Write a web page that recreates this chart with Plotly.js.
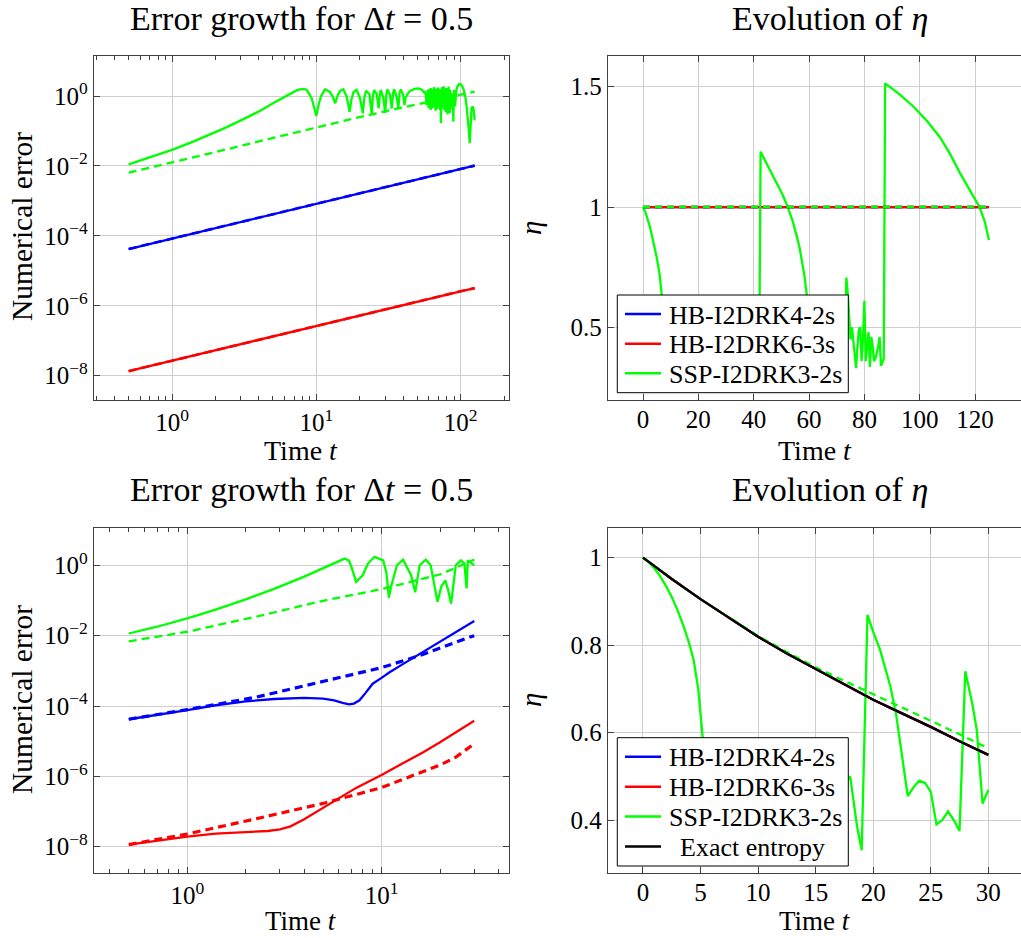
<!DOCTYPE html>
<html>
<head>
<meta charset="utf-8">
<script src="https://cdn.plot.ly/plotly-3.0.1.min.js"></script>
<style>html,body{margin:0;padding:0;background:#fff;}#chart{width:1021px;height:938px;}</style>
</head>
<body>
<div id="chart"></div>
<script>
// ---------------- Data ----------------
// Top-left: error growth, t in [0.5, 125]
const tlLineT      = [0.5, 1, 2, 5, 10, 20, 50, 100, 125];
const tlBlue       = [4.2e-5, 8.4e-5, 1.7e-4, 4.2e-4, 8.5e-4, 1.7e-3, 4.1e-3, 8.2e-3, 1.02e-2];
const tlBlueDash   = [4.2e-5, 8.4e-5, 1.7e-4, 4.2e-4, 8.5e-4, 1.7e-3, 4.1e-3, 8.2e-3, 1.02e-2];
const tlRed        = [1.35e-8, 2.7e-8, 5.3e-8, 1.3e-7, 2.6e-7, 5.2e-7, 1.3e-6, 2.6e-6, 3.2e-6];
const tlRedDash    = [1.35e-8, 2.7e-8, 5.3e-8, 1.3e-7, 2.6e-7, 5.2e-7, 1.3e-6, 2.6e-6, 3.2e-6];
const tlGreenDash  = [6.4e-3, 0.0124, 0.025, 0.063, 0.127, 0.25, 0.58, 1.07, 1.33];
const tlGreenT = [0.5, 0.7, 1, 1.4, 2, 2.27, 3, 4, 5, 6, 6.57, 7.3, 7.9, 8.3, 8.6, 9.3, 9.6, 10, 10.4, 10.8, 11.5, 12.4, 13, 13.5, 14, 14.6, 15.4, 16.2, 16.6, 17, 17.5, 18.1, 19, 20.1, 20.5, 21, 21.5, 22.1, 23.3, 23.8, 24.2, 24.6, 25.1, 26.2, 26.6, 27, 27.5, 27.9, 29.1, 29.6, 30, 30.5, 31, 32.4, 33.3, 34, 34.6, 36, 37, 37.7, 38.5, 40, 40.8, 41.5, 42.5, 43.5, 45, 48, 51, 54, 56,
  57, 57.5, 58, 58.5, 59, 59.5, 60, 60.5, 61, 61.5, 62, 62.5, 63, 63.5, 64, 64.5, 65, 65.5, 66, 66.5, 67, 67.5, 68, 68.5, 69, 69.5, 70, 70.5, 71, 71.5, 72, 72.5, 73, 73.5, 74, 74.5, 75, 75.5, 76, 76.5, 77, 77.5, 78, 78.5, 79, 79.5, 80, 80.5, 81, 81.5, 82, 82.5, 83, 83.5, 84, 84.5, 85, 85.5, 86, 86.5, 87, 87.5, 88, 88.5, 89, 89.5, 90,
  91.5, 93, 95, 97.5, 100, 102, 105, 108, 110, 112, 114, 115.5, 117, 119, 121, 122.5, 124, 125];
const tlGreen = [0.0111, 0.0172, 0.0288, 0.0494, 0.0923, 0.117, 0.201, 0.363, 0.62, 0.95, 1.17, 1.45, 1.58, 1.58, 1.48, 0.85, 0.5, 0.27, 0.6, 1.0, 1.55, 1.32, 0.95, 0.62, 1.0, 1.4, 1.55, 0.95, 0.6, 0.35, 0.8, 1.3, 1.5, 0.85, 0.55, 0.32, 0.9, 1.42, 1.14, 0.6, 0.3, 0.9, 1.48, 1.14, 0.7, 0.45, 1.0, 1.5, 0.9, 0.5, 0.33, 1.0, 1.55, 1.07, 0.44, 1.2, 1.55, 0.95, 0.44, 1.2, 1.55, 1.07, 0.55, 0.9, 1.1, 1.25, 1.42, 1.6, 1.66, 1.5, 1.25,
  1.3, 0.9, 0.55, 1.2, 0.6, 1.5, 0.45, 1.6, 0.7, 1.4, 0.4, 1.7, 0.8, 1.3, 0.45, 1.55, 0.6, 1.8, 0.5, 1.2, 0.38, 1.6, 0.7, 1.45, 0.42, 1.75, 0.55, 1.3, 0.5, 1.6, 0.4, 1.2, 0.17, 1.5, 0.6, 1.8, 0.45, 1.4, 0.7, 1.9, 0.4, 1.5, 0.6, 1.3, 0.35, 1.7, 0.8, 1.5, 0.3, 1.6, 0.5, 1.85, 0.6, 1.3, 0.32, 1.5, 0.7, 1.4, 0.45, 1.2, 0.5, 1.0, 0.4, 0.6, 0.185, 0.9, 1.5,
  0.5, 1.3, 1.9, 2.2, 2.2, 2.0, 1.5, 0.9, 0.5, 0.25, 0.1, 0.045, 0.2, 0.45, 0.5, 0.45, 0.3, 0.2];

// Top-right: evolution of eta, t in [0, 125]
const trLineT  = [0, 25, 50, 75, 100, 125];
const trBlue   = [1, 1, 1, 1, 1, 1];
const trRed    = [1, 1, 1, 1, 1, 1];
const trGreenDash = [1, 1, 1, 1, 1, 1];
const trGreenT = [0, 1, 2.5, 3.5, 4.9, 6, 6.8, 7.5, 8, 8.5, 9, 15, 20, 25, 30, 35, 40, 42,
  42.5, 44.7, 46.5, 48.3, 50.5, 52.3, 54, 55.6, 56.6, 57.5, 58.4, 59.2, 60, 62, 65, 68, 71, 73,
  73.5, 74, 74.5, 75, 75.5, 76, 76.5, 77, 77.5, 78, 78.5, 79, 79.5, 80, 80.5, 81, 81.5, 82, 82.5, 83, 83.5, 84, 84.5, 85, 85.5, 86, 86.5, 87,
  87.5, 92.5, 97.5, 102.5, 107.3, 111, 114.6, 118, 121.6, 123.5, 125];
const trGreen  = [1, 0.975, 0.918, 0.87, 0.793, 0.72, 0.64, 0.55, 0.46, 0.38, 0.33, 0.42, 0.36, 0.45, 0.38, 0.44, 0.36, 0.4,
  1.23, 1.18, 1.14, 1.10, 1.05, 1.0, 0.945, 0.877, 0.83, 0.77, 0.71, 0.633, 0.5, 0.4, 0.45, 0.38, 0.45, 0.45,
  0.707, 0.64, 0.55, 0.45, 0.50, 0.45, 0.38, 0.33, 0.42, 0.49, 0.50, 0.36, 0.45, 0.61, 0.36, 0.42, 0.48, 0.335, 0.46, 0.42, 0.36, 0.37, 0.39, 0.42, 0.46, 0.34, 0.355, 0.37,
  1.514, 1.47, 1.42, 1.36, 1.29, 1.22, 1.14, 1.07, 1.0, 0.94, 0.863];

// Bottom-left: error growth, t in [0.5, 30]
const blBlueT     = [0.5, 0.7, 1, 1.4, 2, 2.8, 4, 5, 5.7, 6.3, 6.8, 7.2, 7.7, 8.3, 9, 10, 11, 13, 16.3, 20, 24.1, 30];
const blBlue      = [4.2e-5, 5.5e-5, 7.6e-5, 1.05e-4, 1.35e-4, 1.58e-4, 1.7e-4, 1.62e-4, 1.45e-4, 1.23e-4, 1.12e-4, 1.17e-4, 1.45e-4, 2.4e-4, 4.3e-4, 6.3e-4, 9.1e-4, 1.6e-3, 3.4e-3, 6.8e-3, 1.29e-2, 2.6e-2];
const blDashT     = [0.5, 1, 2.28, 5, 10, 16.3, 20, 24.1, 27, 30];
const blBlueDash  = [4.2e-5, 7.9e-5, 1.8e-4, 5.1e-4, 1.23e-3, 2.9e-3, 4.5e-3, 6.6e-3, 8.2e-3, 1.0e-2];
const blRedT      = [0.5, 0.7, 1, 1.4, 2, 2.6, 3.0, 3.4, 4, 5, 6, 7.4, 10, 13, 16.3, 20, 24.1, 30];
const blRed       = [1.15e-8, 1.5e-8, 1.95e-8, 2.35e-8, 2.65e-8, 2.8e-8, 3.1e-8, 3.8e-8, 6.0e-8, 1.26e-7, 2.4e-7, 4.7e-7, 1.1e-6, 2.4e-6, 4.8e-6, 9.3e-6, 1.74e-5, 3.8e-5];
const blRedDash   = [1.15e-8, 2.3e-8, 6.3e-8, 1.7e-7, 4.8e-7, 1.35e-6, 2.1e-6, 3.5e-6, 5.4e-6, 8.5e-6];
const blGreenDash = [6.9e-3, 0.0129, 0.035, 0.098, 0.21, 0.40, 0.55, 0.85, 1.1, 1.45];
const blGreenT = [0.5, 0.7, 1, 1.4, 2, 2.8, 4, 5, 5.7, 6.1, 6.46, 6.8, 7, 7.4, 8, 8.5, 9.2, 10.2, 10.6, 10.9, 11.2, 12, 12.9, 14.2, 14.9, 15.7, 16.9, 17.9, 18.5, 19.4, 20.3, 21.3, 22, 22.8, 24.1, 25.6, 26.7, 27.4, 27.8, 29.4, 30];
const blGreen  = [0.0115, 0.0179, 0.031, 0.0547, 0.107, 0.214, 0.476, 0.81, 1.13, 1.35, 1.55, 1.35, 0.9, 0.34, 0.52, 1.1, 1.74, 1.38, 0.6, 0.12, 0.25, 1.0, 1.45, 0.52, 0.17, 1.0, 1.45, 1.0, 0.4, 0.091, 0.25, 0.37, 0.2, 0.081, 1.0, 1.38, 1.12, 0.22, 1.38, 1.12, 1.0];

// Bottom-right: evolution of eta, t in [0, 30]
const brLineT  = [0, 2.5, 5, 7.5, 10, 12.5, 15, 17.5, 20, 22.5, 25, 27.5, 30];
const brExact  = [1, 0.951, 0.905, 0.861, 0.819, 0.781, 0.745, 0.71, 0.675, 0.644, 0.613, 0.58, 0.549];
const brBlue   = [1, 0.951, 0.905, 0.861, 0.819, 0.781, 0.745, 0.71, 0.675, 0.644, 0.613, 0.58, 0.549];
const brRed    = [1, 0.951, 0.905, 0.861, 0.819, 0.781, 0.745, 0.71, 0.675, 0.644, 0.613, 0.58, 0.549];
const brGreenDash = [1, 0.951, 0.905, 0.862, 0.821, 0.784, 0.749, 0.718, 0.688, 0.658, 0.627, 0.596, 0.564];
const brGreenT = [0, 0.5, 1, 1.5, 2, 2.5, 3, 3.5, 4, 4.4, 4.8, 5.2, 5.5, 6, 6.5, 7, 9, 11, 13, 15, 17, 17.5, 18, 18.6, 19, 19.5, 20, 20.6, 21, 21.5, 22, 22.5, 23, 23.5, 24, 24.5, 25, 25.5, 26, 26.5, 27, 27.5, 28, 28.6, 29, 29.5, 30];
const brGreen  = [1, 0.99, 0.975, 0.957, 0.935, 0.91, 0.88, 0.845, 0.805, 0.766, 0.70, 0.59, 0.50, 0.43, 0.38, 0.34, 0.42, 0.36, 0.45, 0.38, 0.45, 0.48, 0.50, 0.385, 0.331, 0.869, 0.83, 0.789, 0.75, 0.705, 0.64, 0.55, 0.455, 0.475, 0.49, 0.485, 0.465, 0.39, 0.40, 0.42, 0.40, 0.375, 0.74, 0.667, 0.606, 0.438, 0.469];

// Tick labels
const logTickVals1 = [1, 10, 100];
const logTickText1 = ['10<sup>0</sup>', '10<sup>1</sup>', '10<sup>2</sup>'];
const logTickVals2 = [1, 10];
const logTickText2 = ['10<sup>0</sup>', '10<sup>1</sup>'];
const errTickVals  = [1e-8, 1e-6, 1e-4, 1e-2, 1];
const errTickText  = ['10<sup>−8</sup>', '10<sup>−6</sup>', '10<sup>−4</sup>', '10<sup>−2</sup>', '10<sup>0</sup>'];
const minorLog1 = [0.3,0.4,0.5,0.6,0.7,0.8,0.9,2,3,4,5,6,7,8,9,20,30,40,50,60,70,80,90,200];
const minorLog2 = [0.4,0.5,0.6,0.7,0.8,0.9,2,3,4,5,6,7,8,9,20,30,40];
const etaTicks1 = [0.5, 1, 1.5];
const etaTicks2 = [0.4, 0.6, 0.8, 1];
const tTicks1 = [0, 20, 40, 60, 80, 100, 120];
const tTicks2 = [0, 5, 10, 15, 20, 25, 30];
const legendNames = ['HB-I2DRK4-2s', 'HB-I2DRK6-3s', 'SSP-I2DRK3-2s', 'Exact entropy'];

// ---------------- Styling ----------------
const FONT = 'Liberation Serif';
const BLUE = '#0000ff', RED = '#ff0000', GREEN = '#00ff00', BLACK = '#000000';
const legendColors = [BLUE, RED, GREEN, BLACK];
const LW = 2.3;

function tr(x, y, xa, ya, color, opts) {
  opts = opts || {};
  return {
    x: x, y: y, xaxis: xa, yaxis: ya, type: 'scatter', mode: 'lines',
    line: {color: color, width: opts.width || LW, dash: opts.dash || 'solid'},
    name: opts.name || '', showlegend: false, hoverinfo: 'skip'
  };
}
const D1 = '8px,5px';
const traces = [
  tr(tlLineT, tlBlue, 'x', 'y', BLUE),
  tr(tlLineT, tlRed, 'x', 'y', RED),
  tr(tlGreenT, tlGreen, 'x', 'y', GREEN),
  tr(tlLineT, tlBlueDash, 'x', 'y', BLUE, {dash: D1, width: 2.6}),
  tr(tlLineT, tlRedDash, 'x', 'y', RED, {dash: D1, width: 2.6}),
  tr(tlLineT, tlGreenDash, 'x', 'y', GREEN, {dash: D1}),
  tr(trLineT, trBlue, 'x2', 'y2', BLUE, {name: legendNames[0]}),
  tr(trLineT, trRed, 'x2', 'y2', RED, {name: legendNames[1]}),
  tr(trGreenT, trGreen, 'x2', 'y2', GREEN, {name: legendNames[2]}),
  tr(trLineT, trBlue, 'x2', 'y2', BLUE, {dash: '7px,5px', width: 2.6}),
  tr(trLineT, trRed, 'x2', 'y2', RED, {dash: '7px,5px', width: 2.6}),
  tr(trLineT, trGreenDash, 'x2', 'y2', GREEN, {dash: '7px,5px', width: 2.6}),
  tr(blBlueT, blBlue, 'x3', 'y3', BLUE),
  tr(blRedT, blRed, 'x3', 'y3', RED),
  tr(blGreenT, blGreen, 'x3', 'y3', GREEN),
  tr(blDashT, blBlueDash, 'x3', 'y3', BLUE, {dash: D1, width: 3.2}),
  tr(blDashT, blRedDash, 'x3', 'y3', RED, {dash: D1, width: 3.2}),
  tr(blDashT, blGreenDash, 'x3', 'y3', GREEN, {dash: D1}),
  tr(brLineT, brBlue, 'x4', 'y4', BLUE, {name: legendNames[0]}),
  tr(brLineT, brRed, 'x4', 'y4', RED, {name: legendNames[1]}),
  tr(brGreenT, brGreen, 'x4', 'y4', GREEN, {name: legendNames[2]}),
  tr(brLineT, brGreenDash, 'x4', 'y4', GREEN, {dash: '7px,5px'}),
  tr(brLineT, brExact, 'x4', 'y4', BLACK, {name: legendNames[3]})
];

const W = 1021, H = 938;
const px = v => v / W, py = v => 1 - v / H;
const tickFont = {family: FONT, size: 25, color: '#000'};
const GRID = '#cfcfcf', AX = '#404040';

function axBase(extra) {
  return Object.assign({
    showline: true, linecolor: AX, linewidth: 1.2,
    ticks: 'inside', ticklen: 6, tickcolor: AX, tickwidth: 1,
    showgrid: true, gridcolor: GRID, gridwidth: 1,
    zeroline: false, tickfont: tickFont, fixedrange: true
  }, extra);
}

// Legend boxes (drawn as paper shapes + text, matching the reference geometry)
function legendBox(top, bottom, rowYs, count) {
  const shapes = [{type: 'rect', xref: 'paper', yref: 'paper', x0: px(617.3), x1: px(848.3), y0: py(bottom), y1: py(top),
    fillcolor: '#ffffff', line: {color: '#000', width: 1}, layer: 'above'}];
  const anns = [];
  for (let i = 0; i < count; i++) {
    shapes.push({type: 'line', xref: 'paper', yref: 'paper', x0: px(625), x1: px(661), y0: py(rowYs[i]), y1: py(rowYs[i]),
      line: {color: legendColors[i], width: 2.6}, layer: 'above'});
    const centered = (i === 3);
    anns.push({text: legendNames[i], x: centered ? px(752) : px(667), y: py(rowYs[i] + 1),
      xanchor: centered ? 'center' : 'left', yanchor: 'middle', font: {size: 26}});
  }
  return {shapes, anns};
}
const leg1 = legendBox(295, 392.7, [314, 343.7, 373.3], 3);
const leg2 = legendBox(737.7, 866, [756.7, 786.7, 816.5, 846.5], 4);

const baseAnns = [
  {text: 'Error growth for Δ<i>t</i> = 0.5', x: px(301), y: py(18), font: {size: 34}},
  {text: 'Evolution of <i>η</i>', x: px(830), y: py(18), font: {size: 34}},
  {text: 'Error growth for Δ<i>t</i> = 0.5', x: px(301), y: py(490), font: {size: 34}},
  {text: 'Evolution of <i>η</i>', x: px(830), y: py(490), font: {size: 34}},
  {text: 'Numerical error', x: px(22), y: py(227), textangle: -90, font: {size: 29.5}},
  {text: 'Numerical error', x: px(22), y: py(700), textangle: -90, font: {size: 29.5}},
  {text: '<i>η</i>', x: px(531), y: py(228), textangle: -90, font: {size: 29}},
  {text: '<i>η</i>', x: px(531), y: py(700), textangle: -90, font: {size: 29}},
  {text: 'Time <i>t</i>', x: px(301), y: py(450), font: {size: 28}},
  {text: 'Time <i>t</i>', x: px(815), y: py(450), font: {size: 28}},
  {text: 'Time <i>t</i>', x: px(301), y: py(921), font: {size: 27}},
  {text: 'Time <i>t</i>', x: px(815), y: py(921), font: {size: 27}}
];

const layout = {
  width: W, height: H,
  margin: {l: 0, r: 0, t: 0, b: 0},
  paper_bgcolor: '#fff', plot_bgcolor: '#fff',
  font: {family: FONT, color: '#000'},
  showlegend: false,
  xaxis: axBase({domain: [px(94), px(509)], anchor: 'y', type: 'log', range: [-0.541, 2.335],
    tickmode: 'array', tickvals: logTickVals1, ticktext: logTickText1, mirror: 'allticks',
    minor: {tickmode: 'array', tickvals: minorLog1, ticks: 'inside', ticklen: 4, tickcolor: AX, showgrid: false}}),
  yaxis: axBase({domain: [py(400), py(55.7)], anchor: 'x', type: 'log', range: [-8.695, 1.153],
    tickmode: 'array', tickvals: errTickVals, ticktext: errTickText, mirror: 'allticks'}),
  xaxis2: axBase({domain: [px(608), 1], anchor: 'y2', range: [-12.65, 136.6], ticklabelstandoff: -3,
    tickmode: 'array', tickvals: tTicks1, mirror: 'allticks'}),
  yaxis2: axBase({domain: [py(400), py(55.7)], anchor: 'x2', range: [0.198, 1.629],
    tickmode: 'array', tickvals: etaTicks1, ticktext: ['0.5', '1', '1.5']}),
  xaxis3: axBase({domain: [px(94), px(509)], anchor: 'y3', type: 'log', range: [-0.480, 1.656],
    tickmode: 'array', tickvals: logTickVals2, ticktext: logTickText2, mirror: 'allticks',
    minor: {tickmode: 'array', tickvals: minorLog2, ticks: 'inside', ticklen: 4, tickcolor: AX, showgrid: false}}),
  yaxis3: axBase({domain: [py(873), py(528.3)], anchor: 'x3', type: 'log', range: [-8.747, 1.051],
    tickmode: 'array', tickvals: errTickVals, ticktext: errTickText, mirror: 'allticks'}),
  xaxis4: axBase({domain: [px(608), 1], anchor: 'y4', range: [-3.04, 32.84], ticklabelstandoff: -3,
    tickmode: 'array', tickvals: tTicks2, mirror: 'allticks'}),
  yaxis4: axBase({domain: [py(873), py(528.3)], anchor: 'x4', range: [0.279, 1.067],
    tickmode: 'array', tickvals: etaTicks2, ticktext: ['0.4', '0.6', '0.8', '1']}),
  shapes: leg1.shapes.concat(leg2.shapes),
  annotations: baseAnns.concat(leg1.anns, leg2.anns).map(a => Object.assign({xref: 'paper', yref: 'paper', showarrow: false,
    xanchor: 'center', yanchor: 'middle'}, a, {font: Object.assign({family: FONT, color: '#000'}, a.font)}))
};

Plotly.newPlot('chart', traces, layout, {staticPlot: true, displayModeBar: false});
</script>
</body>
</html>
